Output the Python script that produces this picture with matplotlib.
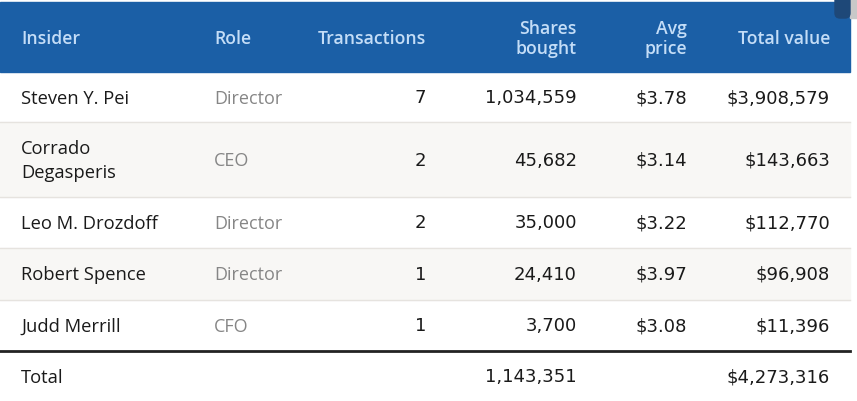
import matplotlib.pyplot as plt
from matplotlib.patches import Rectangle, FancyBboxPatch

plt.rcParams['font.family'] = ['Open Sans', 'DejaVu Sans']

columns = ['Insider', 'Role', 'Transactions', 'Shares\nbought', 'Avg\nprice', 'Total value']
insiders = ['Steven Y. Pei', 'Corrado\nDegasperis', 'Leo M. Drozdoff', 'Robert Spence', 'Judd Merrill']
roles = ['Director', 'CEO', 'Director', 'Director', 'CFO']
transactions = [7, 2, 2, 1, 1]
shares = [1034559, 45682, 35000, 24410, 3700]
avg_price = [3.78, 3.14, 3.22, 3.97, 3.08]
total_value = [3908579, 143663, 112770, 96908, 11396]
total_shares = 1143351
total_dollars = 4273316

W, H = 857, 401
fig = plt.figure(figsize=(W / 100, H / 100), dpi=100)
ax = fig.add_axes([0, 0, 1, 1])
ax.set_xlim(0, W)
ax.set_ylim(H, 0)
ax.axis('off')

right = 850
head_bg = '#1b5fa6'
head_fg = '#c4ddf7'
body_fg = '#1a1a1a'
role_fg = '#868686'
stripe = '#f8f7f5'
rule = '#e6e3df'
num_font = 'DejaVu Sans'

# header band
ax.add_patch(Rectangle((0, 2), right, 70, color=head_bg, zorder=1))
ax.add_patch(Rectangle((850, 0), 7, 18, color='#c8c8c8', zorder=1))
ax.add_patch(FancyBboxPatch((835, -6), 15, 24, boxstyle='round,pad=0,rounding_size=5',
                            color='#1e4878', zorder=2))

col_x = [21, 214, 426, 577, 687, 830]
col_ha = ['left', 'left', 'right', 'right', 'right', 'right']


def put_lines(x, yc, txt, ha, gap, **kw):
    lines = txt.split('\n')
    y0 = yc - gap * (len(lines) - 1) / 2
    for k, ln in enumerate(lines):
        ax.text(x, y0 + k * gap, ln, ha=ha, va='center', **kw)


for lbl, x, ha in zip(columns, col_x, col_ha):
    put_lines(x, 39, lbl, ha, 21, color=head_fg, fontsize=12.7, fontweight='semibold')

# rows
row_edges = [72, 122, 197, 248, 300, 350]
for i in range(len(insiders)):
    top, bot = row_edges[i], row_edges[i + 1]
    if i % 2 == 1:
        ax.add_patch(Rectangle((0, top), right, bot - top, color=stripe, zorder=0))
    if i < len(insiders) - 1:
        ax.plot([0, right], [bot, bot], color=rule, lw=1)
    yc = (top + bot) / 2 + 1.5
    put_lines(col_x[0], yc, insiders[i], 'left', 24, fontsize=13.2, color=body_fg)
    ax.text(col_x[1], yc, roles[i], ha='left', va='center', fontsize=13, color=role_fg)
    nums = [f'{transactions[i]}', f'{shares[i]:,}', f'${avg_price[i]:.2f}', f'${total_value[i]:,}']
    for v, x in zip(nums, col_x[2:]):
        ax.text(x, yc - 0.5, v, ha='right', va='center', fontsize=13, color=body_fg,
                family=num_font)

ax.plot([0, right], [351, 351], color='#222222', lw=2)

yt = 378
ax.text(col_x[0], yt, 'Total', ha='left', va='center', fontsize=13.2, color=body_fg)
ax.text(col_x[3], yt - 0.5, f'{total_shares:,}', ha='right', va='center', fontsize=13,
        color=body_fg, family=num_font)
ax.text(col_x[5], yt - 0.5, f'${total_dollars:,}', ha='right', va='center', fontsize=13,
        color=body_fg, family=num_font)

fig.savefig('out.png', dpi=100)
